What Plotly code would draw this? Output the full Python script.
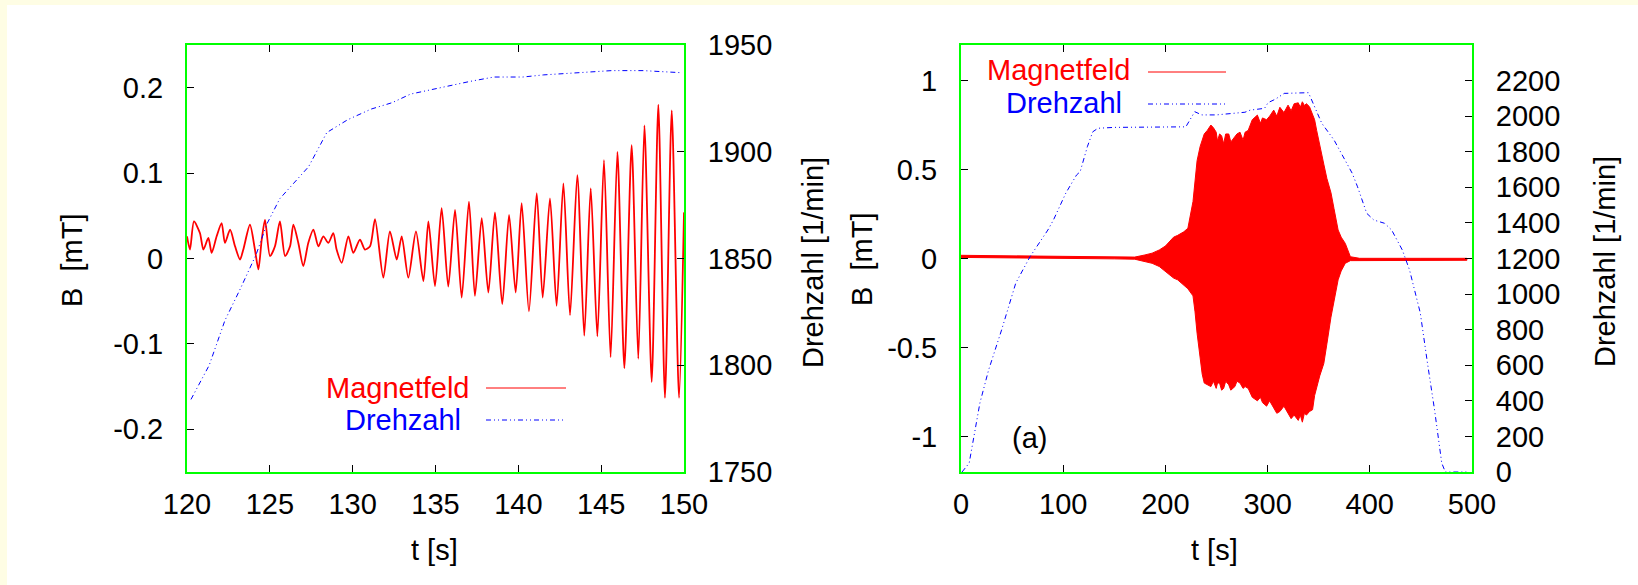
import plotly.graph_objects as go

# ---------------- left panel: 120 s .. 150 s ----------------
t_left = [120.0, 120.18, 120.42, 120.78, 120.99, 121.29, 121.49, 121.79, 122.09, 122.29,
          122.60, 122.90, 123.20, 123.40, 123.80, 124.10, 124.31, 124.51, 124.71, 125.01,
          125.31, 125.61, 125.92, 126.22, 126.42, 126.72, 127.02, 127.32, 127.63, 127.93,
          128.23, 128.53, 128.83, 129.03, 129.34, 129.74, 130.04, 130.44, 130.74, 131.05,
          131.35, 131.85, 132.25, 132.66, 132.96, 133.36, 133.82, 134.27, 134.57, 134.97,
          135.37, 135.77, 136.18, 136.58, 137.02, 137.38, 137.79, 138.19, 138.59, 139.03,
          139.44, 139.84, 140.20, 140.64, 141.11, 141.47, 141.91, 142.31, 142.72, 143.12,
          143.56, 143.98, 144.37, 144.77, 145.17, 145.57, 145.98, 146.40, 146.84, 147.24,
          147.61, 148.05, 148.45, 148.85, 149.26, 149.70, 150.0]
b_left = [0.026, 0.0105, 0.0434, 0.0298, 0.0105, 0.0240, 0.0066, 0.0260, 0.0415, 0.0182,
          0.0337, 0.0143, -0.0012, 0.0105, 0.0395, 0.0105, -0.0128, 0.0221, 0.0453, 0.0027,
          0.0143, 0.0434, 0.0027, 0.0143, 0.0395, 0.0182, -0.0089, 0.0182, 0.0337, 0.0143,
          0.0260, 0.0182, 0.0298, 0.0105, -0.0050, 0.0260, 0.0066, 0.0221, 0.0105, 0.0143,
          0.0461, -0.0225, 0.0318, -0.0012, 0.0260, -0.0225, 0.0318, -0.0264, 0.0434, -0.0322,
          0.0589, -0.0329, 0.0570, -0.0457, 0.0667, -0.0438, 0.0473, -0.0399, 0.0539, -0.0535,
          0.0512, -0.0399, 0.0647, -0.0620, 0.0764, -0.0457, 0.0705, -0.0554, 0.0880, -0.0663,
          0.0977, -0.0903, 0.0822, -0.0911, 0.1151, -0.1155, 0.1248, -0.1283, 0.1326, -0.1174,
          0.1558, -0.1446, 0.1802, -0.1632, 0.1733, -0.1632, 0.054]

t_rpm_left = [120.24, 121.34, 122.29, 123.23, 124.18, 124.81, 125.60, 126.39, 127.34, 128.44,
              129.70, 131.12, 132.39, 133.49, 135.22, 137.12, 138.53, 140.27, 141.53, 143.42,
              145.63, 147.53, 149.90]
rpm_left = [1784, 1800, 1821, 1836, 1852, 1866, 1878, 1885, 1893, 1909,
            1915, 1920, 1923, 1927, 1930, 1933, 1935, 1935, 1936, 1937,
            1938, 1938, 1937]

# ---------------- right panel: 0 s .. 500 s ----------------
t_env = [0, 50, 100, 150, 170, 180, 187, 194, 200, 208, 212, 218, 222, 227, 229, 231, 234,
         236, 238, 241, 244.5, 247, 249.7, 251, 253, 255, 257, 259, 262, 264, 268, 270, 273,
         276, 278, 281, 285, 290, 293, 295, 299, 302, 306, 309, 312, 316, 320, 323, 326, 330,
         332, 334, 336, 338, 341, 344, 346, 348, 351, 355, 358, 362, 365, 369, 372, 376,
         381, 390, 450, 495]
b_upper = [0.018, 0.015, 0.012, 0.009, 0.008, 0.020, 0.030, 0.048, 0.070, 0.120, 0.130,
           0.150, 0.170, 0.320, 0.440, 0.550, 0.630, 0.670, 0.700, 0.720, 0.750, 0.735,
           0.710, 0.660, 0.700, 0.690, 0.645, 0.700, 0.700, 0.655, 0.690, 0.700, 0.710,
           0.665, 0.710, 0.720, 0.780, 0.806, 0.760, 0.790, 0.780, 0.800, 0.834, 0.800,
           0.850, 0.820, 0.862, 0.830, 0.870, 0.875, 0.850, 0.881, 0.860, 0.870, 0.853,
           0.810, 0.780, 0.720, 0.630, 0.530, 0.450, 0.370, 0.280, 0.160, 0.120, 0.085,
           0.010, 0.001, 0.001, 0.001]
b_lower = [0.006, 0.004, 0.001, -0.002, -0.004, -0.016, -0.027, -0.045, -0.070, -0.110,
           -0.120, -0.150, -0.170, -0.210, -0.300, -0.420, -0.570, -0.650, -0.700, -0.710,
           -0.720, -0.690, -0.730, -0.700, -0.700, -0.740, -0.730, -0.690, -0.710, -0.740,
           -0.720, -0.690, -0.700, -0.730, -0.720, -0.730, -0.780, -0.800, -0.780, -0.810,
           -0.830, -0.800, -0.840, -0.870, -0.860, -0.830, -0.870, -0.900, -0.880, -0.910,
           -0.880, -0.920, -0.870, -0.880, -0.860, -0.850, -0.770, -0.720, -0.660, -0.590,
           -0.480, -0.330, -0.230, -0.120, -0.070, -0.027, -0.012, -0.010, -0.010, -0.010]

t_rpm_right = [1, 8, 18.5, 27, 39.7, 53.6, 67.5, 85, 90.4, 102.6, 113, 116.6, 123.6, 128.9,
               134, 150, 220, 228.7, 235.7, 249.7, 277.8, 283, 297, 300.5, 307.5, 316.2,
               340, 346, 353, 365, 372, 382.8, 388, 397, 404, 414.4, 421.4, 431.9, 438.9,
               449.4, 456.4, 463.4, 470.4, 473.9, 495]
rpm_right = [0, 50, 388, 573, 798, 1062, 1210, 1360, 1416, 1568, 1669, 1688, 1828, 1912,
             1932, 1937, 1940, 2025, 2007, 2007, 2022, 2034, 2044, 2076, 2095, 2128,
             2132, 2053, 1960, 1866, 1791, 1679, 1603, 1454, 1416, 1398, 1360, 1247, 1135,
             894, 613, 348, 50, 0, 0]

# tick values / labels
xt_left = [120, 125, 130, 135, 140, 145, 150]
yt_left = [-0.2, -0.1, 0, 0.1, 0.2]
yl_left = ["-0.2", "-0.1", "0", "0.1", "0.2"]
y2t_left = [1750, 1800, 1850, 1900, 1950]
xt_right = [0, 100, 200, 300, 400, 500]
yt_right = [-1, -0.5, 0, 0.5, 1]
yl_right = ["-1", "-0.5", "0", "0.5", "1"]
y2t_right = list(range(0, 2201, 200))

W, H = 1638, 585
FONT = "Liberation Sans, Arial, Helvetica, sans-serif"
FS = 29
RED = "#ff0000"
BLUE = "#0000ff"
GREEN = "#00ff00"
DASH = "5px,3px,1px,3px,1px,3px"


def px(x):
    return x / W


def py(y):
    return 1 - y / H


fig = go.Figure()

fig.add_trace(go.Scatter(x=t_left, y=b_left, mode="lines", xaxis="x", yaxis="y",
                         line=dict(color=RED, width=1.8, shape="spline", smoothing=0.7),
                         showlegend=False))
fig.add_trace(go.Scatter(x=t_rpm_left, y=rpm_left, mode="lines", xaxis="x", yaxis="y2",
                         line=dict(color=BLUE, width=1, dash=DASH), showlegend=False))

# field envelope as a closed filled band
fig.add_trace(go.Scatter(x=t_env + t_env[::-1], y=b_upper + b_lower[::-1], mode="lines",
                         xaxis="x2", yaxis="y3", fill="toself", fillcolor=RED,
                         line=dict(color=RED, width=1), showlegend=False))
fig.add_trace(go.Scatter(x=t_rpm_right, y=rpm_right, mode="lines", xaxis="x2", yaxis="y4",
                         line=dict(color=BLUE, width=1, dash=DASH), showlegend=False))

dom_y = [py(472), py(45)]
axis_common = dict(showline=True, linecolor=GREEN, linewidth=2, ticks="inside",
                   ticklen=7, tickwidth=1, tickcolor="black", showgrid=False,
                   zeroline=False, automargin=False,
                   tickfont=dict(family=FONT, size=FS, color="black"))

fig.update_layout(
    width=W, height=H, autosize=False,
    margin=dict(l=0, r=0, t=0, b=0, pad=0, autoexpand=False),
    paper_bgcolor="#fefde4", plot_bgcolor="white",
    xaxis=dict(domain=[px(187), px(684)], range=[120, 150], tickvals=xt_left,
               anchor="y", mirror="ticks", ticklabelstandoff=5, **axis_common),
    yaxis=dict(domain=dom_y, range=[-0.25, 0.25], tickvals=yt_left, ticktext=yl_left,
               anchor="x", ticklabelstandoff=16, **axis_common),
    yaxis2=dict(range=[1750, 1950], tickvals=y2t_left, overlaying="y", side="right",
                anchor="x", ticklabelstandoff=16, **axis_common),
    xaxis2=dict(domain=[px(961), px(1472)], range=[0, 500], tickvals=xt_right,
                anchor="y3", mirror="ticks", ticklabelstandoff=5, **axis_common),
    yaxis3=dict(domain=dom_y, range=[-1.2, 1.2], tickvals=yt_right, ticktext=yl_right,
                anchor="x2", ticklabelstandoff=16, **axis_common),
    yaxis4=dict(range=[0, 2400], tickvals=y2t_right, overlaying="y3", side="right",
                anchor="x2", ticklabelstandoff=16, **axis_common),
)

# white page area inside the pale frame
fig.add_shape(type="rect", xref="paper", yref="paper", x0=px(7), x1=1, y0=0, y1=py(5),
              fillcolor="white", line=dict(width=0), layer="below")


def label(text, x, y, color="black", angle=0, xanchor="center"):
    fig.add_annotation(text=text, x=px(x), y=py(y), xref="paper", yref="paper",
                       showarrow=False, textangle=angle, xanchor=xanchor, yanchor="middle",
                       font=dict(family=FONT, size=FS, color=color))


# axis titles
label("B  [mT]", 72, 261, angle=-90)
label("Drehzahl [1/min]", 813, 263, angle=-90)
label("B  [mT]", 862, 260, angle=-90)
label("Drehzahl [1/min]", 1605, 262, angle=-90)
label("t [s]", 434, 550)
label("t [s]", 1214, 550)
label("(a)", 1029, 438)

# keys
label("Magnetfeld", 472, 388, color=RED, xanchor="right")
label("Drehzahl", 463, 420, color=BLUE, xanchor="right")
label("Magnetfeld", 1133, 70, color=RED, xanchor="right")
label("Drehzahl", 1124, 103, color=BLUE, xanchor="right")


def key_line(x0, x1, y, color, dash=None):
    fig.add_shape(type="line", xref="paper", yref="paper", x0=px(x0), x1=px(x1),
                  y0=py(y), y1=py(y), line=dict(color=color, width=1, dash=dash))


key_line(486, 566, 388, RED)
key_line(486, 566, 420, BLUE, DASH)
key_line(1148, 1226, 72, RED)
key_line(1148, 1226, 104, BLUE, DASH)

fig.write_html("out.html")
